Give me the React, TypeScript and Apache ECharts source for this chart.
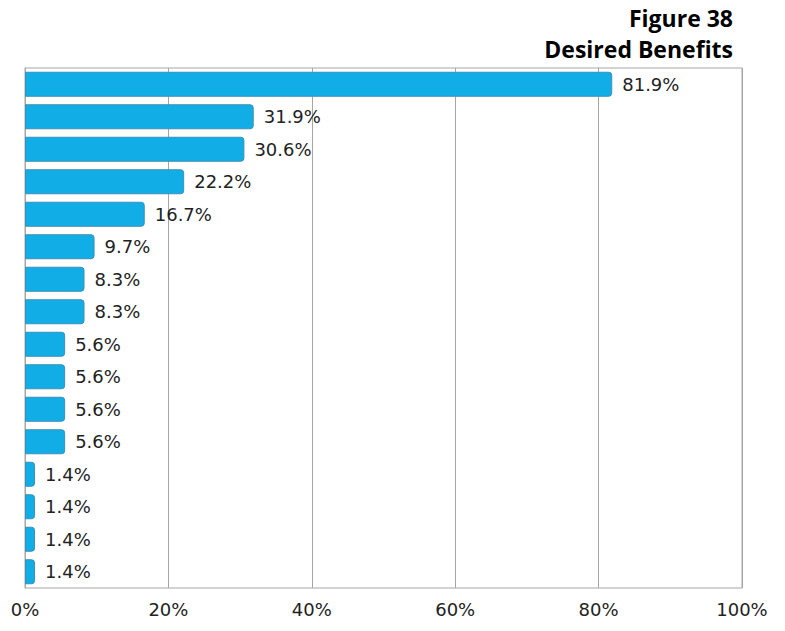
import React, { useEffect, useRef } from "react";
import * as echarts from "echarts";

const categories = [
  "Benefit 1", "Benefit 2", "Benefit 3", "Benefit 4", "Benefit 5", "Benefit 6",
  "Benefit 7", "Benefit 8", "Benefit 9", "Benefit 10", "Benefit 11", "Benefit 12",
  "Benefit 13", "Benefit 14", "Benefit 15", "Benefit 16",
];
const values = [81.9, 31.9, 30.6, 22.2, 16.7, 9.7, 8.3, 8.3, 5.6, 5.6, 5.6, 5.6, 1.4, 1.4, 1.4, 1.4];
const titleLines = ["Figure 38", "Desired Benefits"];

export default function App() {
  const ref = useRef<HTMLDivElement>(null);
  useEffect(() => {
    if (!ref.current) return;
    const chart = echarts.init(ref.current, null, { renderer: "svg" });
    chart.setOption({
      animation: false,
      graphic: titleLines.map((t, i) => ({
        type: "text",
        right: 52,
        top: 6 + i * 31,
        style: {
          text: t,
          fontFamily: "Open Sans",
          fontWeight: "bold",
          fontSize: 23,
          fill: "#000",
          textAlign: "right",
        },
      })),
      grid: {
        left: 25,
        right: 43,
        top: 68,
        bottom: 43,
        show: true,
        borderColor: "#a6a6a6",
        borderWidth: 1,
      },
      xAxis: {
        type: "value",
        min: 0,
        max: 100,
        interval: 20,
        axisLine: { show: false },
        axisTick: { show: false },
        splitLine: { show: true, lineStyle: { color: "#a6a6a6", width: 1 } },
        axisLabel: {
          formatter: "{value}%",
          margin: 12,
          fontFamily: "DejaVu Sans",
          fontSize: 18,
          color: "#222",
        },
      },
      yAxis: {
        type: "category",
        data: categories,
        inverse: true,
        axisLine: { show: true, lineStyle: { color: "#a6a6a6" } },
        axisTick: { show: false },
        axisLabel: { show: false },
        splitLine: { show: false },
      },
      series: [
        {
          type: "bar",
          data: values,
          barWidth: 25,
          itemStyle: {
            color: "#10ade6",
            borderColor: "#3d8fb5",
            borderWidth: 1,
            borderRadius: [0, 3, 3, 0],
          },
          label: {
            show: true,
            position: "right",
            distance: 10,
            formatter: (p: any) => p.value.toFixed(1) + "%",
            fontFamily: "DejaVu Sans",
            fontSize: 18,
            color: "#222",
          },
        },
      ],
    });
    return () => chart.dispose();
  }, []);
  return <div ref={ref} style={{ width: 785, height: 631, position: "absolute", left: 0, top: 0 }} />;
}
